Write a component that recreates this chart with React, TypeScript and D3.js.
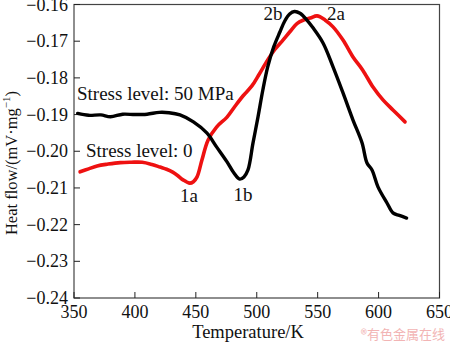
import React from "react";
import * as d3 from "d3";

const xTicks = [350, 400, 450, 500, 550, 600, 650];
const yTicks = [-0.16, -0.17, -0.18, -0.19, -0.2, -0.21, -0.22, -0.23, -0.24];

const blackT = [353, 362, 372, 380, 390, 400, 410, 420, 428, 437, 448, 459, 467, 475.6, 481, 486, 489.5, 492.8, 496.9, 501, 505, 509, 514, 519, 523, 527, 531, 535.5, 541, 546, 554.4, 562.6, 570.8, 579, 586.4, 590.5, 594.6, 599.5, 606.9, 611.8, 617, 623];
const blackV = [-0.1897, -0.1902, -0.1901, -0.1906, -0.1899, -0.19, -0.1899, -0.1894, -0.1895, -0.1901, -0.192, -0.195, -0.1988, -0.2029, -0.2058, -0.2076, -0.207, -0.2051, -0.1978, -0.1907, -0.1833, -0.177, -0.1715, -0.1675, -0.1645, -0.1626, -0.1619, -0.1624, -0.1642, -0.1663, -0.1705, -0.177, -0.1841, -0.1915, -0.1977, -0.2032, -0.2051, -0.2097, -0.2141, -0.2168, -0.2175, -0.2182];

const redT = [355, 362, 369, 378, 388, 397, 406, 414, 420.6, 426, 431, 435, 439.5, 445, 448, 451, 455, 460, 467, 475.6, 482, 489, 496, 502, 509, 515, 521.5, 527, 533, 538, 544, 549.5, 556, 562.6, 570.8, 579, 587, 595.4, 603.6, 612, 621.7];
const redV = [-0.2056, -0.2048, -0.204, -0.2035, -0.2031, -0.203, -0.203, -0.2036, -0.2043, -0.2049, -0.2057, -0.2066, -0.2078, -0.2087, -0.2083, -0.207, -0.2024, -0.197, -0.1934, -0.1907, -0.1878, -0.1848, -0.1822, -0.179, -0.1751, -0.1722, -0.1697, -0.1675, -0.1652, -0.1643, -0.1637, -0.1631, -0.1642, -0.1661, -0.1697, -0.1743, -0.1779, -0.1825, -0.186, -0.1888, -0.192];

const labels = [
  { text: "1a", T: 444.4, v: -0.2138 },
  { text: "1b", T: 488.7, v: -0.2136 },
  { text: "2b", T: 513.3, v: -0.1642 },
  { text: "2a", T: 565, v: -0.1642 },
];

export default function App() {
  const W = 450, H = 344;
  const left = 74, right = 439.5, top = 4.5, bottom = 298;
  const x = d3.scaleLinear().domain([350, 650]).range([left, right]);
  const y = d3.scaleLinear().domain([-0.24, -0.16]).range([bottom, top]);
  const line = d3
    .line<[number, number]>()
    .x((d) => x(d[0]))
    .y((d) => y(d[1]))
    .curve(d3.curveCatmullRom.alpha(0.5));
  const blackPts: [number, number][] = blackT.map((t, i) => [t, blackV[i]]);
  const redPts: [number, number][] = redT.map((t, i) => [t, redV[i]]);
  const font = "'Liberation Serif', 'Times New Roman', serif";
  return (
    <svg width={W} height={H} style={{ position: "absolute", left: 0, top: 0, background: "#fff" }} fontFamily={font}>
      <rect x={left} y={top} width={right - left} height={bottom - top} fill="none" stroke="#444" strokeWidth={1.2} />
      {xTicks.map((t) => (
        <g key={"x" + t}>
          <line x1={x(t)} x2={x(t)} y1={bottom} y2={bottom - 6} stroke="#222" strokeWidth={1} />
          <text x={x(t)} y={318} textAnchor="middle" fontSize={18} fill="#111">{t}</text>
        </g>
      ))}
      {yTicks.map((t) => (
        <g key={"y" + t}>
          <line x1={left} x2={left + 6} y1={y(t)} y2={y(t)} stroke="#222" strokeWidth={1} />
          <text x={68} y={y(t) + 6} textAnchor="end" fontSize={18} fill="#111">{"\u2212" + Math.abs(t).toFixed(2)}</text>
        </g>
      ))}
      <path d={line(redPts) || ""} fill="none" stroke="#ee1111" strokeWidth={3.6} strokeLinejoin="round" strokeLinecap="round" />
      <path d={line(blackPts) || ""} fill="none" stroke="#000" strokeWidth={3.4} strokeLinejoin="round" strokeLinecap="round" />
      <text x={77} y={100} fontSize={19} fill="#111">Stress level: 50 MPa</text>
      <text x={86} y={157} fontSize={19} fill="#111">Stress level: 0</text>
      {labels.map((l) => (
        <text key={l.text} x={x(l.T)} y={y(l.v)} textAnchor="middle" fontSize={19} fill="#111">{l.text}</text>
      ))}
      <text x={248} y={338} textAnchor="middle" fontSize={18.5} fill="#111">Temperature/K</text>
      <text transform="translate(17,163) rotate(-90)" textAnchor="middle" fontSize={16.5} fill="#111">
        Heat flow/(mV{"\u00b7"}mg<tspan dy={-7} fontSize={11}>{"\u22121"}</tspan><tspan dy={7}>)</tspan>
      </text>
      <text x={445} y={339} textAnchor="end" fontSize={13} fill="#f2b4b4" fontFamily="'Noto Sans CJK SC', sans-serif">®有色金属在线</text>
    </svg>
  );
}
